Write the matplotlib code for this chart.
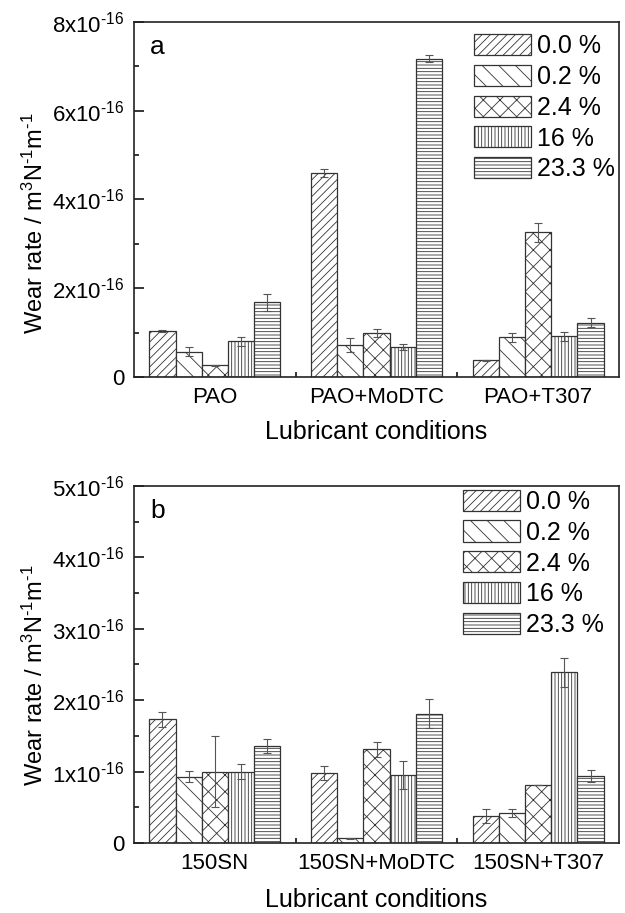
import numpy as np
import matplotlib
matplotlib.use("Agg")
import matplotlib.pyplot as plt
from matplotlib.ticker import FixedLocator, FuncFormatter, MultipleLocator

plt.rcParams['font.family'] = ['Liberation Sans', 'DejaVu Sans']
plt.rcParams['mathtext.fontset'] = 'custom'
plt.rcParams['mathtext.rm'] = 'Liberation Sans'
plt.rcParams['mathtext.it'] = 'Liberation Sans:italic'
plt.rcParams['mathtext.default'] = 'regular'
plt.rcParams['hatch.linewidth'] = 0.6

# wear rates in units of 1e-16 m^3 N^-1 m^-1
concentrations = ["0.0 %", "0.2 %", "2.4 %", "16 %", "23.3 %"]
hatches = ["////", "\\\\", "xx", "|||||", "-----"]

groups_a = ["PAO", "PAO+MoDTC", "PAO+T307"]
# rows = concentration, cols = lubricant
wear_a = [
    [1.04, 4.59, 0.38],
    [0.57, 0.72, 0.89],
    [0.26, 1.00, 3.26],
    [0.80, 0.68, 0.92],
    [1.68, 7.17, 1.22],
]
err_a = [
    [0.02, 0.09, 0.01],
    [0.10, 0.15, 0.11],
    [0.02, 0.09, 0.21],
    [0.10, 0.07, 0.10],
    [0.20, 0.08, 0.10],
]

groups_b = ["150SN", "150SN+MoDTC", "150SN+T307"]
wear_b = [
    [1.73, 0.98, 0.38],
    [0.93, 0.065, 0.42],
    [1.00, 1.31, 0.81],
    [1.00, 0.95, 2.39],
    [1.36, 1.81, 0.94],
]
err_b = [
    [0.10, 0.10, 0.10],
    [0.08, 0.005, 0.05],
    [0.50, 0.10, 0.005],
    [0.11, 0.20, 0.20],
    [0.10, 0.20, 0.08],
]


def sci_label(v, pos):
    if abs(v) < 1e-9:
        return "0"
    return "%dx10$^{\\text{-}16}$" % round(v)


def draw_panel(ax, groups, wear, err, ymax, letter, leg_x, leg_y, xpad, ylab_y):
    x = np.arange(1, len(groups) + 1)
    width = 0.162
    for i, conc in enumerate(concentrations):
        xi = x + (i - 2) * width
        ax.bar(xi, wear[i], width, facecolor='white', edgecolor='#333333',
               linewidth=0.9, hatch=hatches[i], label=conc, zorder=2)
        ax.errorbar(xi, wear[i], yerr=err[i], fmt='none', ecolor='#555555',
                    elinewidth=0.8, capsize=3, capthick=0.8, zorder=3)

    ax.set_xlim(0.5, 3.5)
    ax.set_ylim(0, ymax)
    ax.set_xticks(x)
    ax.set_xticklabels(groups, fontsize=16)
    ax.xaxis.set_minor_locator(FixedLocator([1.5, 2.5]))
    ax.yaxis.set_major_locator(MultipleLocator(2 if ymax > 5 else 1))
    ax.yaxis.set_minor_locator(MultipleLocator(1 if ymax > 5 else 0.5))
    ax.yaxis.set_major_formatter(FuncFormatter(sci_label))
    ax.tick_params(which='both', direction='in', top=False, right=False)
    ax.tick_params(which='major', length=7, width=1.1, labelsize=16, pad=7)
    ax.tick_params(which='minor', length=3.5, width=1.1)
    for s in ax.spines.values():
        s.set_linewidth(1.2)
        s.set_color('#222222')

    ax.set_xlabel("Lubricant conditions", fontsize=18, labelpad=xpad)
    ax.set_ylabel("Wear rate / m$^3$N$^{\\text{-}1}$m$^{\\text{-}1}$", fontsize=17)
    ax.yaxis.set_label_coords(-0.178, ylab_y)
    ax.text(0.033, 0.91, letter, transform=ax.transAxes, fontsize=19,
            ha='left', va='baseline')

    ax.legend(loc='upper left', bbox_to_anchor=(leg_x, leg_y), frameon=False,
              fontsize=18, handlelength=2.28, handleheight=0.92,
              handletextpad=0.25, labelspacing=0.27, borderpad=0,
              borderaxespad=0)


fig = plt.figure(figsize=(6.25, 9.13), dpi=100)
ax_a = fig.add_axes([0.2144, 0.5871, 0.776, 0.3888])
ax_b = fig.add_axes([0.2144, 0.0767, 0.776, 0.391])

draw_panel(ax_a, groups_a, wear_a, err_a, 8, "a", 0.701, 0.967, 9, 0.434)
draw_panel(ax_b, groups_b, wear_b, err_b, 5, "b", 0.678, 0.99, 10, 0.47)

fig.savefig("out.png", dpi=100)
